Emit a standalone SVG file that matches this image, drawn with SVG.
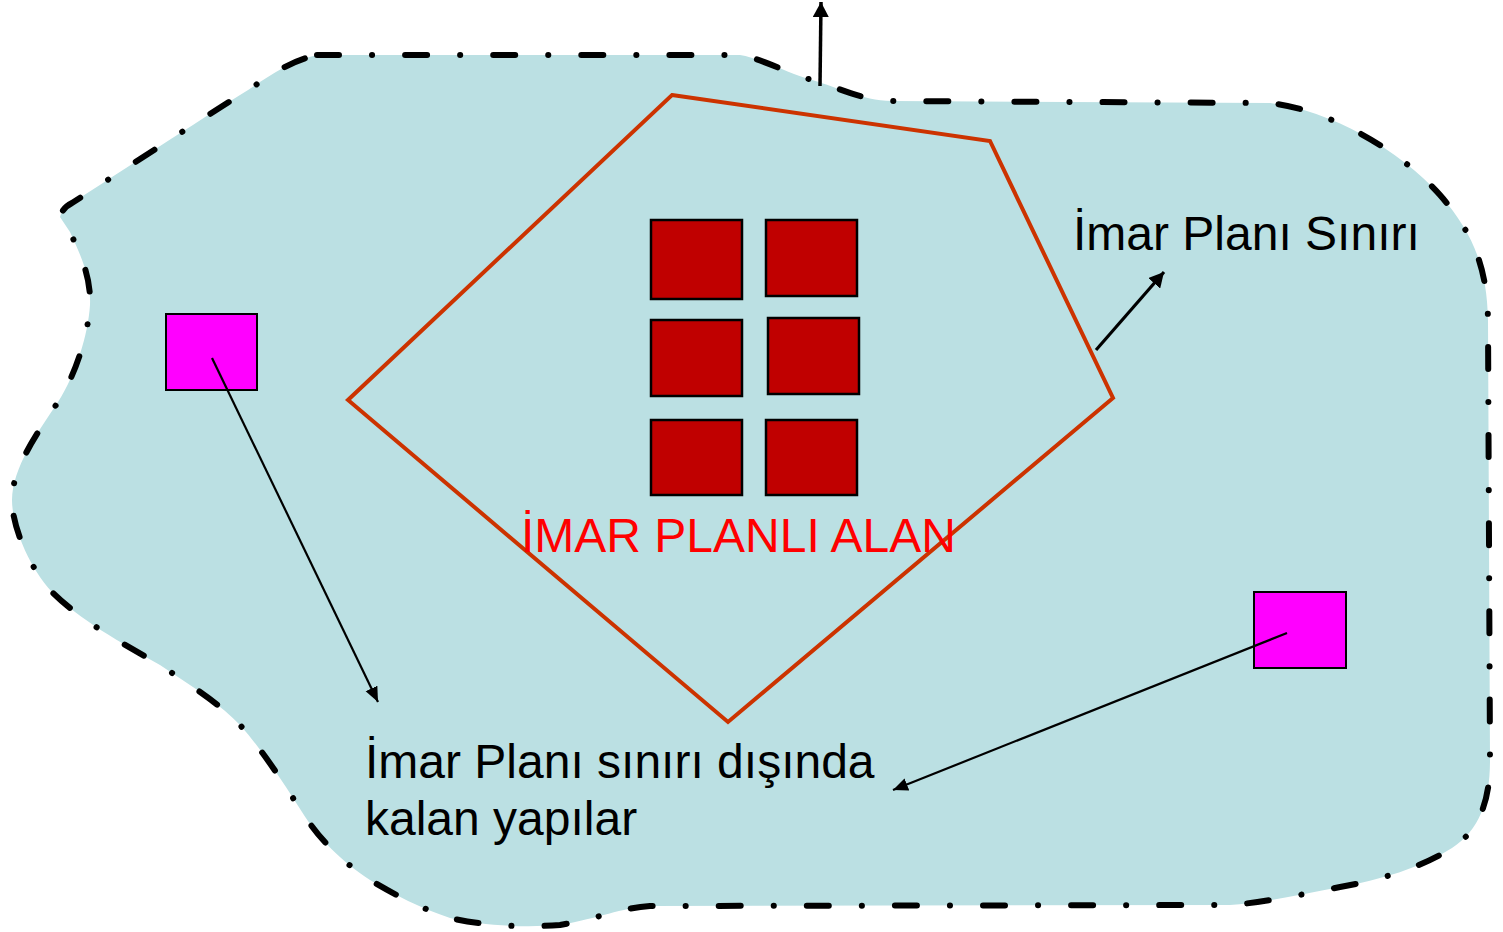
<svg xmlns="http://www.w3.org/2000/svg" width="1503" height="932" viewBox="0 0 1503 932">
<style>
.boundary{fill:#BBE0E3;stroke:#000;stroke-width:6;stroke-linecap:round;stroke-linejoin:round;stroke-dasharray:22 33 0.1 33}
.plan{fill:none;stroke:#CC3300;stroke-width:4;stroke-linejoin:miter}
.bld{fill:#C00000;stroke:#000;stroke-width:2.5}
.out{fill:#FF00FF;stroke:#000;stroke-width:2}
.lbl{font-family:"Liberation Sans",Arial,sans-serif;font-size:48px;fill:#000}
.red{fill:#FF0000}
.conn{stroke:#000;fill:none}
</style>
<defs>
<marker id="ahBig" markerUnits="userSpaceOnUse" markerWidth="16" markerHeight="16" refX="15" refY="8" orient="auto">
<path d="M0,0 L15,8 L0,16 Z" fill="#000"/>
</marker>
<marker id="ahSmall" markerUnits="userSpaceOnUse" markerWidth="16" markerHeight="14" refX="15" refY="7" orient="auto">
<path d="M0,0.5 L15,7 L0,13.5 Z" fill="#000"/>
</marker>
</defs>
<g id="area">
<path class="boundary" d="M317,55 L740,55 C760,58 790,74 812,80 C840,88 860,100 892,101 L1270,103 C1330,110 1400,150 1440,195 C1475,235 1487,270 1488,320 L1490,760 C1490,800 1480,830 1452,848 C1420,868 1380,880 1340,887 C1300,895 1260,903 1230,905 L650,906 C620,908 600,918 560,925 C520,928 480,925 450,918 C420,908 395,895 370,880 C340,860 320,840 302,812 C284,784 264,752 240,725 C222,706 195,688 160,665 C120,642 80,620 52,592 C28,566 12,525 12,500 C12,468 38,432 58,402 C76,374 88,335 90,305 C91,278 82,258 70,232 L60,217 C62,210 66,206 72,203 C120,172 200,120 240,95 C265,80 285,62 317,55 Z"/>
</g>
<g id="plan-boundary">
<polygon class="plan" points="672,95 990,141 1113,398 728,722 348,400"/>
</g>
<g id="building-1"><rect class="bld" x="651" y="220" width="91" height="79"/></g>
<g id="building-2"><rect class="bld" x="766" y="220" width="91" height="76"/></g>
<g id="building-3"><rect class="bld" x="651" y="320" width="91" height="76"/></g>
<g id="building-4"><rect class="bld" x="768" y="318" width="91" height="76"/></g>
<g id="building-5"><rect class="bld" x="651" y="420" width="91" height="75"/></g>
<g id="building-6"><rect class="bld" x="766" y="420" width="91" height="75"/></g>
<g id="outside-1"><rect class="out" x="166" y="314" width="91" height="76"/></g>
<g id="outside-2"><rect class="out" x="1254" y="592" width="92" height="76"/></g>
<g id="connectors">
<line class="conn" x1="820" y1="86" x2="821" y2="2" stroke-width="3.5" marker-end="url(#ahBig)"/>
<line class="conn" x1="1096" y1="350" x2="1164" y2="272" stroke-width="3.2" marker-end="url(#ahBig)"/>
<line class="conn" x1="212" y1="358" x2="378" y2="702" stroke-width="2.2" marker-end="url(#ahSmall)"/>
<line class="conn" x1="1287" y1="633" x2="893" y2="790" stroke-width="2.2" marker-end="url(#ahSmall)"/>
</g>
<g id="labels">
<text class="lbl" x="1073" y="250">İmar Planı Sınırı</text>
<text class="lbl red" x="521" y="552">İMAR PLANLI ALAN</text>
<text class="lbl" x="365" y="778">İmar Planı sınırı dışında</text>
<text class="lbl" x="365" y="835">kalan yapılar</text>
</g>
</svg>
